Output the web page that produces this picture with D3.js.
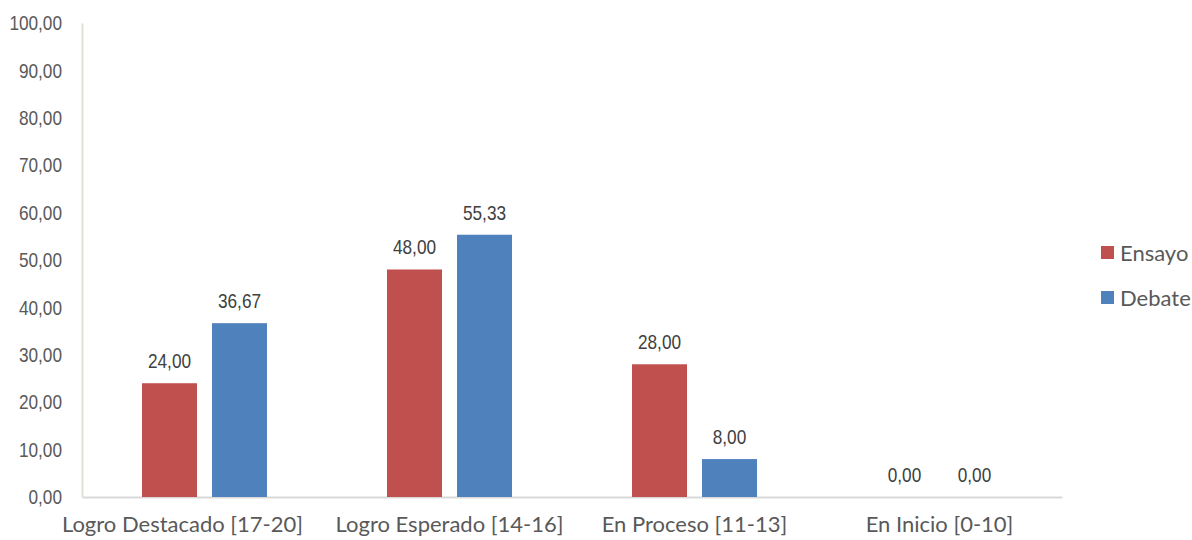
<!DOCTYPE html>
<html>
<head>
<meta charset="utf-8">
<script src="https://cdn.jsdelivr.net/npm/d3@7"></script>
<style>
  html, body { margin: 0; padding: 0; background: #fff; }
  /* condensed numeric labels: a regular sans squeezed horizontally */
  .num {
    font-family: "Liberation Sans", Arial, sans-serif;
    transform-box: fill-box;
    transform: scaleX(0.82);
  }
  .num.right { transform-origin: right center; }
  .num.center { transform-origin: center center; }
  .cat { font-family: Lato, "Open Sans", sans-serif; }
</style>
</head>
<body>
<svg id="chart" width="1192" height="540"></svg>
<script>
// Achievement levels and percentage of students per strategy
const categories = ["Logro Destacado [17-20]", "Logro Esperado [14-16]", "En Proceso [11-13]", "En Inicio [0-10]"];
const seriesNames = ["Ensayo", "Debate"];
const ensayo = [24.00, 48.00, 28.00, 0.00];
const debate = [36.67, 55.33, 8.00, 0.00];
const yTicks = [0, 10, 20, 30, 40, 50, 60, 70, 80, 90, 100];
const colors = ["#c0504d", "#4f81bd"];

const fmt = v => v.toFixed(2).replace(".", ",");

const svg = d3.select("#chart");
const margin = { left: 82, right: 130, top: 23, bottom: 43 };
const width = 1192, height = 540;
const groupWidth = 125;

const x = d3.scaleBand()
  .domain(categories)
  .range([margin.left, width - margin.right])
  .paddingInner(0)
  .paddingOuter(0);

const inner = d3.scaleBand()
  .domain(seriesNames)
  .range([0, groupWidth])
  .paddingInner(15 / 70);

const y = d3.scaleLinear()
  .domain([0, 100])
  .range([height - margin.bottom, margin.top]);

// y-axis labels
const yAxis = d3.axisLeft(y).tickValues(yTicks).tickFormat(fmt).tickSize(0).tickPadding(20);
const gy = svg.append("g")
  .attr("transform", `translate(${margin.left},0)`)
  .call(yAxis);
gy.select(".domain").attr("stroke", "#e3e0d3").attr("stroke-width", 2);
gy.selectAll("text")
  .attr("class", "num right")
  .attr("font-family", null)
  .attr("font-size", 21)
  .attr("fill", "#595959");

// x-axis baseline and category labels
const xAxis = d3.axisBottom(x).tickSize(0).tickPadding(19);
const gx = svg.append("g")
  .attr("transform", `translate(0,${y(0)})`)
  .call(xAxis);
gx.select(".domain").attr("stroke", "#d9d9d9").attr("stroke-width", 2);
gx.selectAll("text")
  .attr("class", "cat")
  .attr("font-size", 22)
  .attr("fill", "#595959")
  .attr("dx", (d, i) => i === 0 ? -22 : 0);

// bars
const rows = categories.map((c, i) => ({ cat: c, values: [ensayo[i], debate[i]] }));
const groups = svg.append("g").selectAll("g")
  .data(rows)
  .join("g")
  .attr("transform", d => `translate(${x(d.cat) + (x.bandwidth() - groupWidth) / 2},0)`);

groups.selectAll("rect")
  .data(d => d.values.map((v, j) => ({ name: seriesNames[j], v, j })))
  .join("rect")
  .attr("x", d => inner(d.name))
  .attr("width", inner.bandwidth())
  .attr("y", d => y(d.v))
  .attr("height", d => y(0) - y(d.v))
  .attr("fill", d => colors[d.j]);

groups.selectAll("text.val")
  .data(d => d.values.map((v, j) => ({ name: seriesNames[j], v, j })))
  .join("text")
  .attr("class", "val num center")
  .attr("x", d => inner(d.name) + inner.bandwidth() / 2)
  .attr("y", d => y(d.v) - 15)
  .attr("text-anchor", "middle")
  .attr("font-size", 21)
  .attr("fill", "#404040")
  .text(d => fmt(d.v));

// legend
const legend = svg.append("g").attr("transform", "translate(1101,0)");
const items = legend.selectAll("g")
  .data(seriesNames)
  .join("g")
  .attr("transform", (d, i) => `translate(0,${253 + i * 45})`);
items.append("rect")
  .attr("x", 0).attr("y", -7)
  .attr("width", 13).attr("height", 13)
  .attr("fill", (d, i) => colors[i]);
items.append("text")
  .attr("class", "cat")
  .attr("x", 19).attr("y", 0)
  .attr("dy", "0.35em")
  .attr("font-size", 22)
  .attr("fill", "#595959")
  .text(d => d);
</script>
</body>
</html>
